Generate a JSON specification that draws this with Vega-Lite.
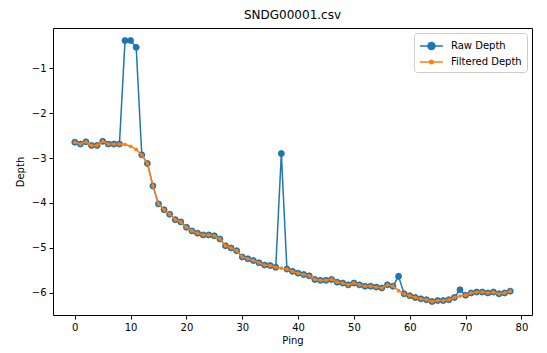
{
  "$schema": "https://vega.github.io/schema/vega-lite/v6.json",
  "autosize": "none",
  "width": 479,
  "height": 287,
  "padding": {"left": 53, "top": 28, "right": 15, "bottom": 38},
  "background": "white",
  "title": {"text": "SNDG00001.csv", "fontSize": 12, "fontWeight": "normal", "font": "DejaVu Sans", "color": "black", "offset": 6},
  "config": {
    "view": {"stroke": "black", "strokeWidth": 1},
    "font": "DejaVu Sans",
    "axis": {"grid": false, "domain": false, "tickColor": "black", "tickSize": 4, "labelColor": "black", "labelFontSize": 10, "labelFont": "DejaVu Sans", "titleFont": "DejaVu Sans", "titleFontSize": 10, "titleFontWeight": "normal", "titleColor": "black", "labelPadding": 3}
  },
  "data": {"values": [
    {"ping": 0, "raw": -2.65, "filtered": -2.65},
    {"ping": 1, "raw": -2.69, "filtered": -2.69},
    {"ping": 2, "raw": -2.64, "filtered": -2.64},
    {"ping": 3, "raw": -2.72, "filtered": -2.72},
    {"ping": 4, "raw": -2.72, "filtered": -2.72},
    {"ping": 5, "raw": -2.63, "filtered": -2.63},
    {"ping": 6, "raw": -2.69, "filtered": -2.69},
    {"ping": 7, "raw": -2.69, "filtered": -2.69},
    {"ping": 8, "raw": -2.69, "filtered": -2.69},
    {"ping": 9, "raw": -0.39, "filtered": -2.70},
    {"ping": 10, "raw": -0.39, "filtered": -2.74},
    {"ping": 11, "raw": -0.54, "filtered": -2.81},
    {"ping": 12, "raw": -2.93, "filtered": -2.93},
    {"ping": 13, "raw": -3.12, "filtered": -3.12},
    {"ping": 14, "raw": -3.62, "filtered": -3.62},
    {"ping": 15, "raw": -4.02, "filtered": -4.02},
    {"ping": 16, "raw": -4.15, "filtered": -4.15},
    {"ping": 17, "raw": -4.25, "filtered": -4.25},
    {"ping": 18, "raw": -4.37, "filtered": -4.37},
    {"ping": 19, "raw": -4.42, "filtered": -4.42},
    {"ping": 20, "raw": -4.54, "filtered": -4.54},
    {"ping": 21, "raw": -4.62, "filtered": -4.62},
    {"ping": 22, "raw": -4.67, "filtered": -4.67},
    {"ping": 23, "raw": -4.71, "filtered": -4.71},
    {"ping": 24, "raw": -4.71, "filtered": -4.71},
    {"ping": 25, "raw": -4.73, "filtered": -4.73},
    {"ping": 26, "raw": -4.80, "filtered": -4.80},
    {"ping": 27, "raw": -4.95, "filtered": -4.95},
    {"ping": 28, "raw": -5.00, "filtered": -5.00},
    {"ping": 29, "raw": -5.06, "filtered": -5.06},
    {"ping": 30, "raw": -5.20, "filtered": -5.20},
    {"ping": 31, "raw": -5.24, "filtered": -5.24},
    {"ping": 32, "raw": -5.28, "filtered": -5.28},
    {"ping": 33, "raw": -5.33, "filtered": -5.33},
    {"ping": 34, "raw": -5.38, "filtered": -5.38},
    {"ping": 35, "raw": -5.39, "filtered": -5.39},
    {"ping": 36, "raw": -5.43, "filtered": -5.43},
    {"ping": 37, "raw": -2.90, "filtered": -5.45},
    {"ping": 38, "raw": -5.47, "filtered": -5.47},
    {"ping": 39, "raw": -5.52, "filtered": -5.52},
    {"ping": 40, "raw": -5.56, "filtered": -5.56},
    {"ping": 41, "raw": -5.59, "filtered": -5.59},
    {"ping": 42, "raw": -5.62, "filtered": -5.62},
    {"ping": 43, "raw": -5.70, "filtered": -5.70},
    {"ping": 44, "raw": -5.72, "filtered": -5.72},
    {"ping": 45, "raw": -5.72, "filtered": -5.72},
    {"ping": 46, "raw": -5.70, "filtered": -5.70},
    {"ping": 47, "raw": -5.76, "filtered": -5.76},
    {"ping": 48, "raw": -5.78, "filtered": -5.78},
    {"ping": 49, "raw": -5.82, "filtered": -5.82},
    {"ping": 50, "raw": -5.78, "filtered": -5.78},
    {"ping": 51, "raw": -5.82, "filtered": -5.82},
    {"ping": 52, "raw": -5.85, "filtered": -5.85},
    {"ping": 53, "raw": -5.85, "filtered": -5.85},
    {"ping": 54, "raw": -5.87, "filtered": -5.87},
    {"ping": 55, "raw": -5.89, "filtered": -5.89},
    {"ping": 56, "raw": -5.82, "filtered": -5.82},
    {"ping": 57, "raw": -5.85, "filtered": -5.85},
    {"ping": 58, "raw": -5.63, "filtered": -5.95},
    {"ping": 59, "raw": -6.02, "filtered": -6.02},
    {"ping": 60, "raw": -6.06, "filtered": -6.06},
    {"ping": 61, "raw": -6.10, "filtered": -6.10},
    {"ping": 62, "raw": -6.13, "filtered": -6.13},
    {"ping": 63, "raw": -6.15, "filtered": -6.15},
    {"ping": 64, "raw": -6.19, "filtered": -6.19},
    {"ping": 65, "raw": -6.17, "filtered": -6.17},
    {"ping": 66, "raw": -6.17, "filtered": -6.17},
    {"ping": 67, "raw": -6.15, "filtered": -6.15},
    {"ping": 68, "raw": -6.10, "filtered": -6.10},
    {"ping": 69, "raw": -5.93, "filtered": -6.07},
    {"ping": 70, "raw": -6.05, "filtered": -6.05},
    {"ping": 71, "raw": -6.00, "filtered": -6.00},
    {"ping": 72, "raw": -5.98, "filtered": -5.98},
    {"ping": 73, "raw": -5.98, "filtered": -5.98},
    {"ping": 74, "raw": -6.00, "filtered": -6.00},
    {"ping": 75, "raw": -5.98, "filtered": -5.98},
    {"ping": 76, "raw": -6.02, "filtered": -6.02},
    {"ping": 77, "raw": -6.00, "filtered": -6.00},
    {"ping": 78, "raw": -5.96, "filtered": -5.96}
  ]},
  "encoding": {
    "x": {"field": "ping", "type": "quantitative", "title": "Ping", "scale": {"domain": [-3.9, 81.9], "nice": false, "zero": false}, "axis": {"values": [0, 10, 20, 30, 40, 50, 60, 70, 80], "titlePadding": 3}}
  },
  "layer": [
    {
      "mark": {"type": "line", "strokeWidth": 1.5},
      "encoding": {
        "y": {"field": "raw", "type": "quantitative", "title": "Depth", "scale": {"domain": [-6.49, -0.11], "nice": false, "zero": false}, "axis": {"values": [-6, -5, -4, -3, -2, -1], "titlePadding": 6}},
        "color": {"datum": "Raw Depth", "type": "nominal", "scale": {"domain": ["Raw Depth", "Filtered Depth"], "range": ["#1f77b4", "#ff7f0e"]},
          "legend": {"title": null, "orient": "top-right", "offset": 5, "padding": 5, "strokeColor": "#cccccc", "fillColor": "white", "cornerRadius": 3, "labelFontSize": 10, "labelColor": "black", "labelFont": "DejaVu Sans", "symbolSize": 200, "labelOffset": 16, "rowPadding": 1,
            "encode": {"symbols": {"update": {
              "shape": {"signal": "datum.value === 'Raw Depth' ? 'M-1,0L2.25,0M0.13,0A0.5,0.5,0,1,1,1.13,0A0.5,0.5,0,1,1,0.13,0Z' : 'M-1,0L2.25,0M0.38,0A0.25,0.25,0,1,1,0.88,0A0.25,0.25,0,1,1,0.38,0Z'"},
              "fill": {"signal": "datum.value === 'Raw Depth' ? '#1f77b4' : '#ff7f0e'"},
              "stroke": {"signal": "datum.value === 'Raw Depth' ? '#1f77b4' : '#ff7f0e'"},
              "strokeWidth": {"value": 1.5},
              "opacity": {"value": 1}
            }}}}
        }
      }
    },
    {
      "mark": {"type": "point", "filled": true, "size": 36, "opacity": 1, "stroke": "#1a6aa3", "strokeWidth": 0.8},
      "encoding": {
        "y": {"field": "raw", "type": "quantitative"},
        "color": {"datum": "Raw Depth", "type": "nominal"}
      }
    },
    {
      "mark": {"type": "line", "strokeWidth": 1.5},
      "encoding": {
        "y": {"field": "filtered", "type": "quantitative"},
        "color": {"datum": "Filtered Depth", "type": "nominal"}
      }
    },
    {
      "mark": {"type": "point", "filled": true, "size": 14, "opacity": 1},
      "encoding": {
        "y": {"field": "filtered", "type": "quantitative"},
        "color": {"datum": "Filtered Depth", "type": "nominal"}
      }
    }
  ]
}
